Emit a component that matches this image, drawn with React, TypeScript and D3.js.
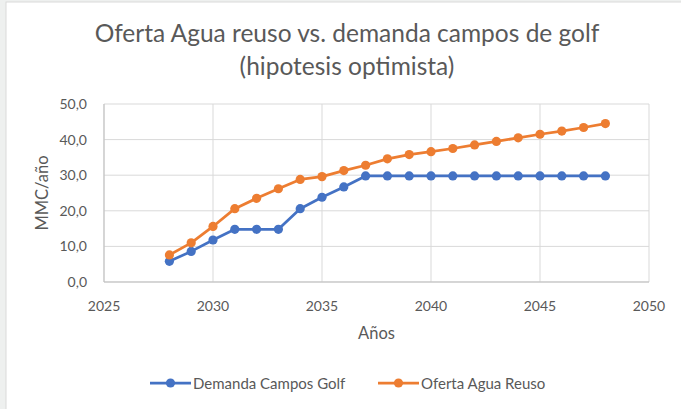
import { useMemo } from "react";
import * as d3 from "d3";

const WIDTH = 681;
const HEIGHT = 409;
const MARGIN = { top: 104, right: 32, bottom: 127, left: 104 };
const FONT = "Lato, 'Open Sans', sans-serif";
const TEXT = "#595959";
const GRID = "#D9D9D9";

const TITLE = ["Oferta Agua reuso vs. demanda campos de golf", "(hipotesis optimista)"];
const X_LABEL = "Años";
const Y_LABEL = "MMC/año";

const years = [
  2028, 2029, 2030, 2031, 2032, 2033, 2034, 2035, 2036, 2037, 2038,
  2039, 2040, 2041, 2042, 2043, 2044, 2045, 2046, 2047, 2048,
];
const demandaGolf = [
  5.8, 8.6, 11.8, 14.8, 14.8, 14.8, 20.6, 23.8, 26.7, 29.8, 29.8,
  29.8, 29.8, 29.8, 29.8, 29.8, 29.8, 29.8, 29.8, 29.8, 29.8,
];
const ofertaReuso = [
  7.6, 11.0, 15.6, 20.6, 23.5, 26.2, 28.8, 29.6, 31.3, 32.8, 34.6,
  35.8, 36.6, 37.5, 38.5, 39.5, 40.5, 41.5, 42.4, 43.4, 44.5,
];
const xTicks = [2025, 2030, 2035, 2040, 2045, 2050];
const yTicks = [0, 10, 20, 30, 40, 50];

const series = [
  { name: "Demanda Campos Golf", values: demandaGolf, color: "#4472C4" },
  { name: "Oferta Agua Reuso", values: ofertaReuso, color: "#ED7D31" },
];

export default function App() {
  const boundsWidth = WIDTH - MARGIN.left - MARGIN.right;
  const boundsHeight = HEIGHT - MARGIN.top - MARGIN.bottom;

  const xScale = useMemo(
    () => d3.scaleLinear().domain([2025, 2050]).range([0, boundsWidth]),
    [boundsWidth]
  );
  const yScale = useMemo(
    () => d3.scaleLinear().domain([0, 50]).range([boundsHeight, 0]),
    [boundsHeight]
  );

  const line = d3
    .line<number>()
    .x((_, i) => xScale(years[i]))
    .y((d) => yScale(d));

  const fmt = (v: number) => v.toFixed(1).replace(".", ",");

  // legend layout
  const legendY = 383;
  const legendItems = [
    { ...series[0], x: 150 },
    { ...series[1], x: 378 },
  ];

  return (
    <div style={{ position: "fixed", left: 0, top: 0 }}>
      <svg width={WIDTH} height={HEIGHT} style={{ display: "block" }}>
        <rect width={WIDTH} height={HEIGHT} fill="#EEF0EF" />
        <rect x={6} y={2} width={WIDTH} height={HEIGHT} fill="white" stroke={GRID} />

        {/* title */}
        <g fontFamily={FONT} fill={TEXT} fontSize={24.5} textAnchor="middle">
          <text x={347} y={42}>{TITLE[0]}</text>
          <text x={347} y={75}>{TITLE[1]}</text>
        </g>

        <g transform={`translate(${MARGIN.left}, ${MARGIN.top})`}>
          {/* grid */}
          {yTicks.map((t) => (
            <line
              key={"y" + t}
              x1={0}
              x2={boundsWidth}
              y1={yScale(t)}
              y2={yScale(t)}
              stroke={GRID}
              strokeWidth={1}
            />
          ))}
          {xTicks.map((t) => (
            <line
              key={"x" + t}
              x1={xScale(t)}
              x2={xScale(t)}
              y1={0}
              y2={boundsHeight}
              stroke={GRID}
              strokeWidth={1}
            />
          ))}
          <line x1={0} x2={boundsWidth} y1={boundsHeight} y2={boundsHeight} stroke="#BFBFBF" />
          <line x1={0} x2={0} y1={0} y2={boundsHeight} stroke="#BFBFBF" />

          {/* tick labels */}
          <g fontFamily={FONT} fill={TEXT} fontSize={14}>
            {yTicks.map((t) => (
              <text key={t} x={-17} y={yScale(t) + 5} textAnchor="end">
                {fmt(t)}
              </text>
            ))}
            {xTicks.map((t) => (
              <text key={t} x={xScale(t)} y={boundsHeight + 29} textAnchor="middle">
                {t}
              </text>
            ))}
          </g>

          {/* axis titles */}
          <text
            x={boundsWidth / 2}
            y={boundsHeight + 57}
            textAnchor="middle"
            fontFamily={FONT}
            fontSize={16.5}
            fill={TEXT}
          >
            {X_LABEL}
          </text>
          <text
            transform={`translate(${-56}, ${boundsHeight / 2}) rotate(-90)`}
            textAnchor="middle"
            fontFamily={FONT}
            fontSize={16.5}
            fill={TEXT}
          >
            {Y_LABEL}
          </text>

          {/* series */}
          {series.map((s) => (
            <g key={s.name}>
              <path
                d={line(s.values) ?? ""}
                fill="none"
                stroke={s.color}
                strokeWidth={2.75}
                strokeLinejoin="round"
              />
              {s.values.map((v, i) => (
                <circle key={i} cx={xScale(years[i])} cy={yScale(v)} r={4.6} fill={s.color} />
              ))}
            </g>
          ))}
        </g>

        {/* legend */}
        <g fontFamily={FONT} fontSize={15} fill={TEXT}>
          {legendItems.map((s) => (
            <g key={s.name} transform={`translate(${s.x}, ${legendY})`}>
              <line x1={0} x2={41} y1={0} y2={0} stroke={s.color} strokeWidth={2.75} />
              <circle cx={20.5} cy={0} r={4.6} fill={s.color} />
              <text x={43} y={5.5}>{s.name}</text>
            </g>
          ))}
        </g>
      </svg>
    </div>
  );
}
